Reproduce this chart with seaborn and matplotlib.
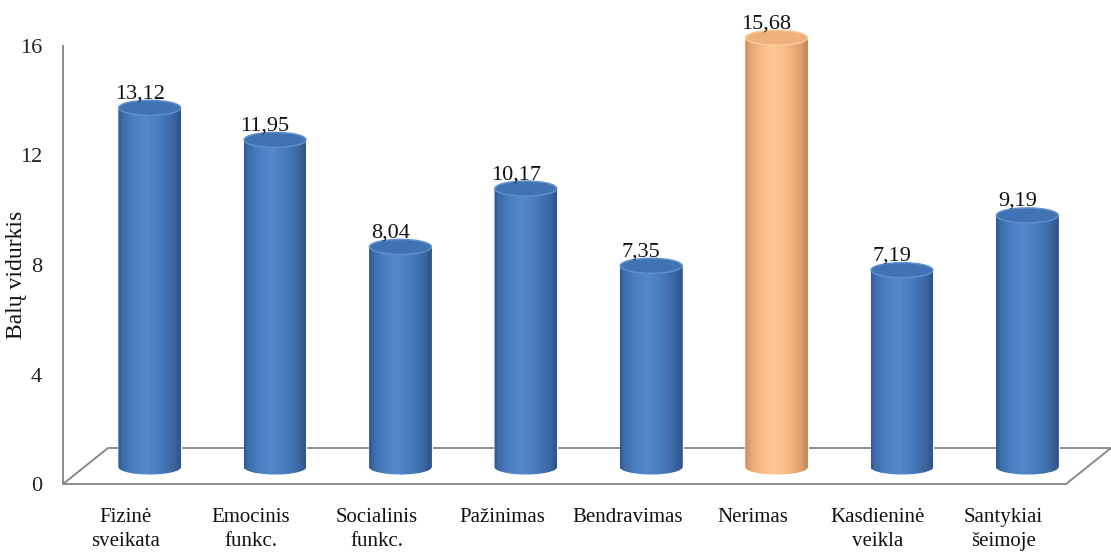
import numpy as np
import pandas as pd
import matplotlib
matplotlib.use("Agg")
import matplotlib.pyplot as plt
import matplotlib.transforms as mtransforms
from matplotlib.path import Path
from matplotlib.patches import PathPatch, Ellipse, Rectangle
from matplotlib.colors import LinearSegmentedColormap
import seaborn as sns

# ---- data -------------------------------------------------------------
categories = ["Fizinė\nsveikata", "Emocinis\nfunkc.", "Socialinis\nfunkc.", "Pažinimas",
              "Bendravimas", "Nerimas", "Kasdieninė\nveikla", "Santykiai\nšeimoje"]
values = [13.12, 11.95, 8.04, 10.17, 7.35, 15.68, 7.19, 9.19]
highlighted = "Nerimas"
y_ticks = [0, 4, 8, 12, 16]
y_title = "Balų vidurkis"

# ---- style ------------------------------------------------------------
sns.set_theme(style="white")
plt.rcParams["font.family"] = ["Liberation Serif", "DejaVu Serif"]

DPI = 100
W_PX, H_PX = 1111, 554
GRAY = "#8a8a8a"
BLUE = "#4A7EBB"
ORANGE = "#F9BE8A"

fig = plt.figure(figsize=(W_PX / DPI, H_PX / DPI), dpi=DPI)
fig.patch.set_facecolor("white")
ax = fig.add_axes([63 / W_PX, 70 / H_PX, 1003 / W_PX, 438 / H_PX])

df = pd.DataFrame({"category": categories, "value": values})
palette = {c: (ORANGE if c == highlighted else BLUE) for c in categories}
sns.barplot(data=df, x="category", y="value", hue="category", palette=palette,
            saturation=1, width=0.5, legend=False, ax=ax, zorder=3)

ax.set_xlim(-0.5, len(categories) - 0.5)
ax.set_ylim(0, 16)

# pixels per data unit
p0 = ax.transData.transform((0, 0))
px_x = ax.transData.transform((1, 0))[0] - p0[0]
px_y = ax.transData.transform((0, 1))[1] - p0[1]

# depth offsets of the pseudo-3D scene (in pixels)
BAR_DX, BAR_DY = 24, 17
FLOOR_DX, FLOOR_DY = 45, 36
depth = mtransforms.ScaledTranslation(BAR_DX / DPI, BAR_DY / DPI, fig.dpi_scale_trans)
bar_tr = ax.transData + depth

# ---- floor ------------------------------------------------------------
fdx, fdy = FLOOR_DX / px_x, FLOOR_DY / px_y
x_lo, x_hi = -0.5, len(categories) - 0.5
ax.plot([x_lo, x_lo + fdx, x_hi + fdx, x_hi], [0, fdy, fdy, 0],
        color=GRAY, lw=1.4, clip_on=False, zorder=1, solid_joinstyle="miter")

# ---- cylinders ----------------------------------------------------------
shade_blue = LinearSegmentedColormap.from_list("blue_cyl", [
    (0.0, "#2e5890"), (0.07, "#3c6ca9"), (0.25, "#4a80c2"), (0.45, "#5189ca"),
    (0.68, "#467abb"), (0.88, "#3a66a2"), (1.0, "#2d5388")])
shade_orange = LinearSegmentedColormap.from_list("orange_cyl", [
    (0.0, "#c98e5c"), (0.07, "#e2a470"), (0.25, "#f7bb87"), (0.45, "#fdc794"),
    (0.68, "#f6b984"), (0.88, "#e0a06c"), (1.0, "#bf8455")])

ry_px = 7.5
ry = ry_px / px_y
n_strips = 70
bars = sorted(ax.patches, key=lambda p: p.get_x())
for cat, bar in zip(categories, bars):
    bar.set_transform(bar_tr)
    x0, w, h = bar.get_x(), bar.get_width(), bar.get_height()
    xc, rx = x0 + w / 2, w / 2
    is_hl = cat == highlighted
    cmap = shade_orange if is_hl else shade_blue

    # silhouette: rounded bottom, straight sides, rounded top
    t_bot = np.linspace(np.pi, 2 * np.pi, 60)
    t_top = np.linspace(0, np.pi, 60)
    xs = np.concatenate([xc + rx * np.cos(t_bot), xc + rx * np.cos(t_top)])
    ys = np.concatenate([ry * np.sin(t_bot), h + ry * np.sin(t_top)])
    verts = np.column_stack([xs, ys])
    verts = np.vstack([verts, verts[:1]])
    sil = PathPatch(Path(verts, closed=True), transform=bar_tr,
                    facecolor="none", edgecolor="none")
    ax.add_patch(sil)

    sw = w / n_strips
    for k in range(n_strips):
        s = (k + 0.5) / n_strips
        strip = Rectangle((x0 + k * sw, -ry * 1.2), sw * 1.08, h + 2.4 * ry,
                          facecolor=cmap(s), edgecolor="none",
                          transform=bar_tr, zorder=4)
        ax.add_patch(strip)
        strip.set_clip_path(sil)
        strip.set_clip_box(None)

    cap_face = "#efb07c" if is_hl else "#4073b2"
    cap_edge = "#fbcb9d" if is_hl else "#5f8fcc"
    cap = Ellipse((xc, h), w * 0.985, 2 * ry, transform=bar_tr,
                  facecolor=cap_face, edgecolor=cap_edge, lw=1.1,
                  zorder=5, clip_on=False)
    ax.add_patch(cap)

    ax.annotate(f"{h:.2f}".replace(".", ","), xy=(xc, h),
                xytext=((BAR_DX - 10) * 0.72, (BAR_DY + ry_px + 2) * 0.72),
                textcoords="offset points", ha="center", va="baseline",
                fontsize=16, color="#111111", zorder=6, annotation_clip=False)

# ---- axes decoration ------------------------------------------------------
for side in ["top", "right"]:
    ax.spines[side].set_visible(False)
for side in ["left", "bottom"]:
    ax.spines[side].set_color(GRAY)
    ax.spines[side].set_linewidth(1.4)
    ax.spines[side].set_zorder(2)

ax.set_yticks(y_ticks)
ax.set_yticklabels([str(t) for t in y_ticks])
ax.tick_params(axis="y", direction="out", length=6, width=1.2, color=GRAY,
               labelsize=16, labelcolor="#222222", pad=9)

ax.set_xticks(range(len(categories)))
ax.set_xticklabels(categories, linespacing=1.35)
ax.set_xticks(np.arange(-0.5, len(categories), 1.0), minor=True)
ax.tick_params(axis="x", which="major", length=0, labelsize=15,
               labelcolor="#111111", pad=17)
ax.tick_params(axis="x", which="minor", direction="out", length=6.5,
               width=1.2, color=GRAY)
ax.set_xlabel("")

ax.set_ylabel(y_title, fontsize=17, color="#111111", va="center")
ax.yaxis.set_label_coords(-0.046, 0.477)

ax.grid(False)
ax.set_facecolor("white")

fig.savefig("out.png", dpi=DPI, facecolor="white")
